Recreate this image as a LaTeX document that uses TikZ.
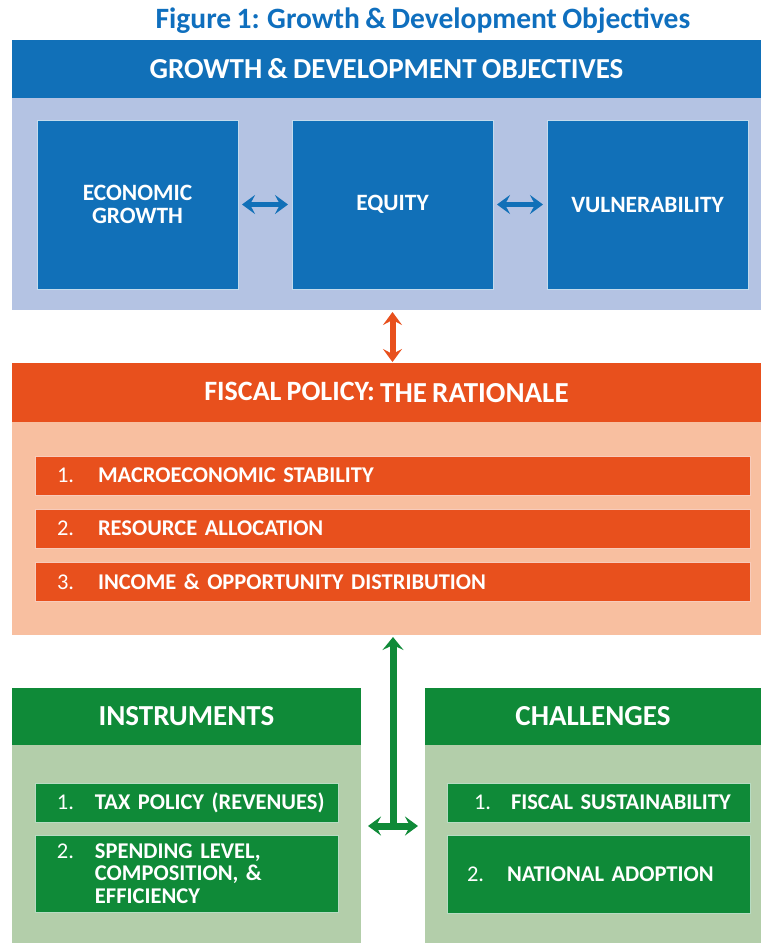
\documentclass[tikz,border=0pt]{standalone}
\usepackage{fontspec}
\setmainfont{Carlito}[WordSpace=0.8]
\usetikzlibrary{arrows.meta,positioning}
\definecolor{titleblue}{HTML}{0F6FBE}
\definecolor{objblue}{HTML}{1170B8}
\definecolor{objlight}{HTML}{B4C3E3}
\definecolor{ratorange}{HTML}{E8501D}
\definecolor{ratlight}{HTML}{F8BFA0}
\definecolor{toolgreen}{HTML}{0F8A38}
\definecolor{toollight}{HTML}{B3CEAA}
\tikzset{
  panel/.style={anchor=north west, inner sep=0pt, outer sep=0pt},
  band/.style={panel, text=white, font=\bfseries\fontsize{29}{31}\selectfont},
  objbox/.style={panel, fill=objblue, draw=white!75!objblue, line width=1pt,
    minimum width=201, minimum height=169, align=center, text=white,
    font=\bfseries\fontsize{23.4}{23.5}\selectfont},
  itembox/.style={panel, draw=white!70!#1, line width=1pt, fill=#1, text=white,
    align=left, minimum height=39, font=\bfseries\fontsize{22.5}{22.7}\selectfont},
  bigarrow/.style={draw=#1, {Stealth[length=13pt,width=19pt,inset=5pt]}-{Stealth[length=13pt,width=19pt,inset=5pt]}}
}
\newcommand{\itemno}[2]{\makebox[#1][l]{\mdseries #2}}
\begin{document}
\begin{tikzpicture}[x=1pt,y=-1pt]
  \useasboundingbox (0,0) rectangle (761,943);
  %%%%% OBJECTIVES %%%%%
  \node[panel, text=titleblue, font=\bfseries\fontsize{29.5}{31}\selectfont, anchor=center] (title) at (423,21) {Figure 1: Growth \& Development Objectives};
  \node[band, fill=objblue, minimum width=749, minimum height=58] (objhead) at (12,40) {GROWTH \& DEVELOPMENT OBJECTIVES};
  \node[panel, fill=objlight, minimum width=749, minimum height=212] (objpanel) at (12,98) {};

  \node[objbox] (growth) at (37,120) {ECONOMIC\\GROWTH};
  \node[objbox] (equity) at (292,120) {EQUITY};
  \node[objbox] (vulner) at (547,120) {VULNERABILITY};

  \draw[bigarrow=objblue, line width=5pt, shorten <=4pt, shorten >=4pt, fill=objblue] (growth) -- (equity);
  \draw[bigarrow=objblue, line width=5pt, shorten <=4pt, shorten >=4pt, fill=objblue] (equity) -- (vulner);

  %%%%% RATIONALE %%%%%
  \node[band, fill=ratorange, minimum width=749, minimum height=59] (rathead) at (12,363) {{\fontsize{28}{30}\selectfont\raisebox{2pt}{FISCAL POLICY:}} THE RATIONALE};
  \node[panel, fill=ratlight, minimum width=749, minimum height=213] (ratpanel) at (12,422) {};

  \draw[bigarrow=ratorange, fill=ratorange, line width=6pt, shorten <=2pt, shorten >=1pt] (objpanel.south -| equity) -- (rathead.north -| equity);

  \node[itembox=ratorange, text width=671, inner xsep=22pt] (stab) at (35,456) {\itemno{41pt}{1.}MACROECONOMIC STABILITY};
  \node[itembox=ratorange, text width=671, inner xsep=22pt] (alloc) at (35,509) {\itemno{41pt}{2.}RESOURCE ALLOCATION};
  \node[itembox=ratorange, text width=671, inner xsep=22pt] (distr) at (35,562) {\itemno{41pt}{3.}INCOME \& OPPORTUNITY DISTRIBUTION};

  %%%%% INSTRUMENTS / CHALLENGES %%%%%
  \node[band, fill=toolgreen, minimum width=349, minimum height=57] (insthead) at (12,688) {INSTRUMENTS};
  \node[panel, fill=toollight, minimum width=349, minimum height=198] (instpanel) at (12,745) {};
  \node[band, fill=toolgreen, minimum width=336, minimum height=57] (chalhead) at (425,688) {CHALLENGES};
  \node[panel, fill=toollight, minimum width=336, minimum height=198] (chalpanel) at (425,745) {};

  \node[itembox=toolgreen, text width=291, inner xsep=6pt] (tax) at (35,783) {\hspace*{16pt}\itemno{38pt}{1.}TAX POLICY (REVENUES)};
  \node[itembox=toolgreen, text width=291, inner xsep=6pt, minimum height=77] (spend) at (35,835)
    {\hspace*{16pt}\itemno{38pt}{2.}\parbox[t]{215pt}{SPENDING LEVEL,\\COMPOSITION, \&\\EFFICIENCY}};
  \node[itembox=toolgreen, text width=291, inner xsep=6pt] (sustain) at (447,783) {\hspace*{21pt}\itemno{37pt}{1.}FISCAL SUSTAINABILITY};
  \node[itembox=toolgreen, text width=291, inner xsep=6pt, minimum height=78] (adopt) at (447,835) {\hspace*{14pt}\itemno{40pt}{2.}NATIONAL ADOPTION};

  \coordinate (gjoin) at (393,826);
  \draw[draw=toolgreen, fill=toolgreen, line width=7pt, {Stealth[length=13pt,width=21pt,inset=5pt]}-, shorten <=2pt] (ratpanel.south -| gjoin) -- ([yshift=-3.5pt]gjoin);
  \draw[bigarrow=toolgreen, fill=toolgreen, line width=7pt, shorten <=7pt, shorten >=7pt] (instpanel.east |- gjoin) -- (chalpanel.west |- gjoin);
\end{tikzpicture}
\end{document}
